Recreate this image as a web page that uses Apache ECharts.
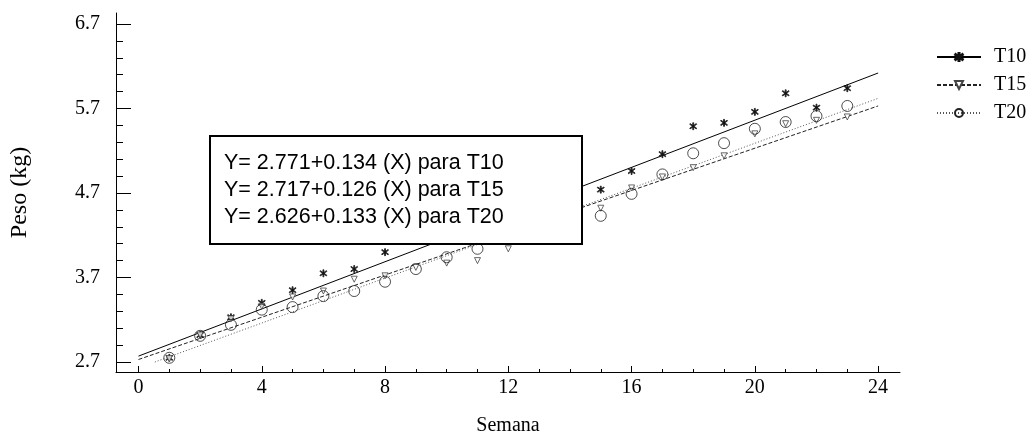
<!DOCTYPE html>
<html>
<head>
<meta charset="utf-8" />
<title>Peso por semana</title>
<script src="https://cdn.jsdelivr.net/npm/echarts@6/dist/echarts.min.js"></script>
<style>
  html, body { margin: 0; padding: 0; background: #fff; }
  #chart { width: 1028px; height: 434px; }
</style>
</head>
<body>
<div id="chart"></div>
<script>
// semanas 1..23
const weeks = [1, 2, 3, 4, 5, 6, 7, 8, 9, 10, 11, 12, 13, 14, 15, 16, 17, 18, 19, 20, 21, 22, 23];
const pesoT10 = [2.75, 3.02, 3.23, 3.40, 3.55, 3.75, 3.80, 4.00, 4.20, 4.30, 4.40, 4.50, 4.60, 4.68, 4.74, 4.96, 5.16, 5.49, 5.53, 5.66, 5.88, 5.71, 5.94];
const pesoT15 = [2.74, 3.02, 3.21, 3.36, 3.47, 3.54, 3.68, 3.72, 3.82, 3.87, 3.90, 4.04, 4.25, 4.40, 4.52, 4.76, 4.89, 5.00, 5.14, 5.40, 5.52, 5.56, 5.60];
const pesoT20 = [2.75, 3.01, 3.14, 3.32, 3.35, 3.48, 3.54, 3.65, 3.80, 3.94, 4.04, 4.20, 4.30, 4.42, 4.43, 4.69, 4.92, 5.17, 5.29, 5.46, 5.54, 5.61, 5.73];

// rectas de regresion, extremos
const fitT10 = [[0, 2.77], [24, 6.12]];
const fitT15 = [[0, 2.73], [24, 5.73]];
const fitT20 = [[0.53, 2.70], [24, 5.82]];

const xTicks = [0, 4, 8, 12, 16, 20, 24];
const yTicks = [2.7, 3.7, 4.7, 5.7, 6.7];
const seriesNames = ["T10", "T15", "T20"];
const equations = [
  "Y= 2.771+0.134 (X) para T10",
  "Y= 2.717+0.126 (X) para T15",
  "Y= 2.626+0.133 (X) para T20",
];

const serif = "'Liberation Serif', 'DejaVu Serif', serif";
const starPath =
  "path://M4.4,0H5.6V10H4.4Z M0.5,2.2L1.1,1.2L9.5,7.8L8.9,8.8Z M8.9,1.2L9.5,2.2L1.1,8.8L0.5,7.8Z";

// ticks menores
const xMinor = [];
for (let i = 0; i <= 24; i++) if (i % 4 !== 0) xMinor.push(i);
const yMinor = [];
for (let i = 0; i < 20; i++) {
  if (i % 5 !== 0) yMinor.push(+(2.7 + i * 0.2).toFixed(1));
}

const X_MIN = -0.73, X_MAX = 24.71, Y_MIN = 2.582, Y_MAX = 6.83;

const marks = {
  T10: { symbol: starPath, symbolSize: 7, color: "#111", border: "#111" },
  T15: { symbol: "triangle", symbolSize: 6, symbolRotate: 180, color: "#fff", border: "#444" },
  T20: { symbol: "circle", symbolSize: 11, color: "rgba(255,255,255,0)", border: "#222" },
};
const lineStyles = {
  T10: { color: "#000", width: 1, type: "solid" },
  T15: { color: "#222", width: 1, type: [4, 2] },
  T20: { color: "#555", width: 1, type: [1, 2] },
};

const chart = echarts.init(document.getElementById("chart"));

function scatter(name, values) {
  const m = marks[name];
  return {
    name: name + "_pts",
    type: "scatter",
    data: weeks.map((w, i) => [w, values[i]]),
    symbol: m.symbol,
    symbolSize: m.symbolSize,
    symbolRotate: m.symbolRotate || 0,
    itemStyle: { color: m.color, borderColor: m.border, borderWidth: 1 },
    silent: true,
    z: 3,
  };
}

function fitLine(name, pts) {
  const m = marks[name];
  return {
    name: name,
    type: "line",
    data: pts,
    showSymbol: false,
    symbol: m.symbol,
    symbolSize: m.symbolSize,
    symbolRotate: m.symbolRotate || 0,
    itemStyle: { color: m.color, borderColor: m.border, borderWidth: 1 },
    lineStyle: lineStyles[name],
    silent: true,
    z: 2,
  };
}

// recuadro con las ecuaciones, encima de los puntos
const boxChildren = [
  {
    type: "rect",
    z: 100,
    shape: { x: 0, y: 0, width: 372, height: 108 },
    style: { fill: "#fff", stroke: "#000", lineWidth: 2 },
  },
].concat(
  equations.map((t, i) => ({
    type: "text",
    z: 101,
    x: 14,
    y: 27 + i * 27,
    style: {
      text: t,
      fill: "#000",
      font: "21.5px 'Liberation Sans', Arial, sans-serif",
      textVerticalAlign: "middle",
    },
  }))
);

chart.setOption({
  animation: false,
  backgroundColor: "#fff",
  grid: { left: 116, right: 128, top: 13, bottom: 62, outerBoundsMode: "none", containLabel: false },
  legend: {
    data: seriesNames,
    orient: "vertical",
    left: 931,
    top: 42,
    itemWidth: 44,
    itemHeight: 10,
    itemGap: 8,
    textStyle: { fontFamily: serif, fontSize: 20, color: "#000", padding: [0, 0, 0, 8] },
  },
  xAxis: [
    {
      type: "value",
      min: X_MIN,
      max: X_MAX,
      name: "Semana",
      nameLocation: "middle",
      nameGap: 44,
      nameTextStyle: { fontFamily: serif, fontSize: 20, color: "#000" },
      axisLine: { onZero: false, lineStyle: { color: "#000", width: 1 } },
      axisTick: { inside: true, length: 6, customValues: xTicks, lineStyle: { color: "#000" } },
      axisLabel: { customValues: xTicks, fontFamily: serif, fontSize: 20, color: "#000", margin: 6 },
      splitLine: { show: false },
    },
    {
      type: "value",
      position: "bottom",
      min: X_MIN,
      max: X_MAX,
      axisLine: { show: false, onZero: false },
      axisTick: { inside: true, length: 3, customValues: xMinor, lineStyle: { color: "#000" } },
      axisLabel: { show: false },
      splitLine: { show: false },
    },
  ],
  yAxis: [
    {
      type: "value",
      min: Y_MIN,
      max: Y_MAX,
      name: "Peso (kg)",
      nameLocation: "middle",
      nameGap: 84,
      nameTextStyle: { fontFamily: serif, fontSize: 24, color: "#000" },
      axisLine: { onZero: false, lineStyle: { color: "#000", width: 1 } },
      axisTick: { inside: true, length: 15, customValues: yTicks, lineStyle: { color: "#000" } },
      axisLabel: {
        customValues: yTicks,
        fontFamily: serif,
        fontSize: 20,
        color: "#000",
        margin: 16,
        formatter: (v) => v.toFixed(1),
      },
      splitLine: { show: false },
    },
    {
      type: "value",
      position: "left",
      min: Y_MIN,
      max: Y_MAX,
      axisLine: { show: false, onZero: false },
      axisTick: { inside: true, length: 7, customValues: yMinor, lineStyle: { color: "#000" } },
      axisLabel: { show: false },
      splitLine: { show: false },
    },
  ],
  graphic: [
    {
      type: "group",
      left: 209,
      top: 135,
      z: 100,
      children: boxChildren,
    },
  ],
  series: [
    fitLine("T10", fitT10),
    fitLine("T15", fitT15),
    fitLine("T20", fitT20),
    scatter("T10", pesoT10),
    scatter("T15", pesoT15),
    scatter("T20", pesoT20),
  ],
});
</script>
</body>
</html>
